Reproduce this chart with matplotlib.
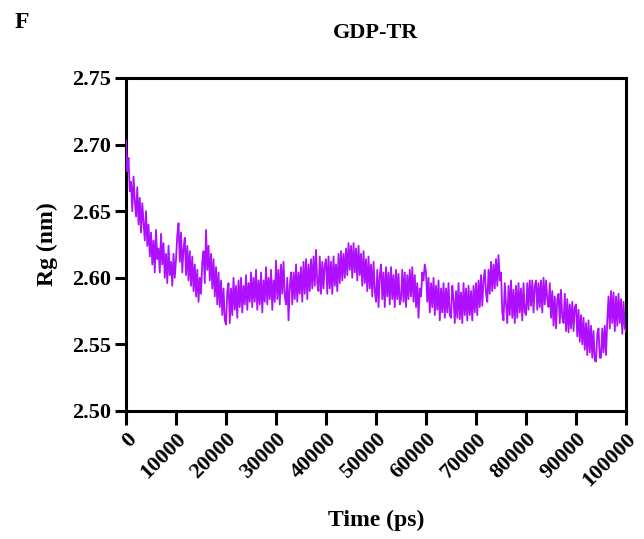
import numpy as np
import matplotlib
matplotlib.use("Agg")
from matplotlib import pyplot as plt

# Rg trajectory of GDP-TR, sampled every 250 ps (one row = 5000 ps)
time_ps = np.arange(0, 100001, 250)
rg_nm = [
    2.703, 2.680, 2.690, 2.665, 2.672, 2.650, 2.676, 2.658, 2.646, 2.668, 2.640, 2.660, 2.634, 2.656, 2.642, 2.628, 2.650, 2.624, 2.640, 2.616,
    2.634, 2.610, 2.628, 2.604, 2.636, 2.614, 2.622, 2.604, 2.633, 2.610, 2.626, 2.600, 2.618, 2.596, 2.624, 2.602, 2.612, 2.594, 2.618, 2.600,
    2.614, 2.632, 2.641, 2.612, 2.634, 2.604, 2.622, 2.630, 2.602, 2.624, 2.598, 2.620, 2.594, 2.616, 2.590, 2.610, 2.586, 2.606, 2.582, 2.600,
    2.588, 2.612, 2.620, 2.596, 2.636, 2.606, 2.624, 2.598, 2.618, 2.592, 2.614, 2.586, 2.608, 2.580, 2.604, 2.578, 2.598, 2.572, 2.592, 2.568,
    2.565, 2.590, 2.596, 2.566, 2.592, 2.572, 2.600, 2.576, 2.594, 2.570, 2.598, 2.578, 2.600, 2.574, 2.594, 2.580, 2.602, 2.576, 2.596, 2.582,
    2.604, 2.578, 2.600, 2.582, 2.606, 2.576, 2.598, 2.580, 2.604, 2.574, 2.598, 2.582, 2.608, 2.580, 2.600, 2.584, 2.606, 2.576, 2.598, 2.582,
    2.613, 2.584, 2.606, 2.580, 2.610, 2.588, 2.612, 2.586, 2.580, 2.600, 2.568, 2.594, 2.604, 2.580, 2.604, 2.584, 2.610, 2.582, 2.604, 2.588,
    2.608, 2.582, 2.612, 2.588, 2.614, 2.584, 2.610, 2.590, 2.614, 2.592, 2.616, 2.594, 2.621, 2.596, 2.590, 2.616, 2.588, 2.612, 2.592, 2.610,
    2.614, 2.588, 2.616, 2.592, 2.612, 2.588, 2.616, 2.594, 2.610, 2.590, 2.618, 2.596, 2.620, 2.598, 2.618, 2.600, 2.622, 2.602, 2.626, 2.606,
    2.624, 2.600, 2.626, 2.604, 2.622, 2.598, 2.624, 2.602, 2.618, 2.594, 2.620, 2.596, 2.614, 2.590, 2.616, 2.592, 2.610, 2.586, 2.612, 2.590,
    2.582, 2.606, 2.578, 2.602, 2.610, 2.584, 2.604, 2.578, 2.608, 2.586, 2.604, 2.580, 2.608, 2.584, 2.602, 2.578, 2.606, 2.584, 2.603, 2.580,
    2.584, 2.606, 2.582, 2.604, 2.578, 2.602, 2.584, 2.606, 2.586, 2.608, 2.582, 2.602, 2.578, 2.596, 2.570, 2.592, 2.586, 2.604, 2.598, 2.610,
    2.604, 2.582, 2.600, 2.574, 2.596, 2.578, 2.600, 2.572, 2.594, 2.576, 2.598, 2.568, 2.592, 2.574, 2.596, 2.570, 2.592, 2.574, 2.596, 2.572,
    2.570, 2.594, 2.584, 2.566, 2.590, 2.570, 2.596, 2.569, 2.589, 2.566, 2.596, 2.572, 2.592, 2.568, 2.594, 2.572, 2.590, 2.568, 2.594, 2.574,
    2.596, 2.572, 2.598, 2.578, 2.602, 2.579, 2.598, 2.606, 2.588, 2.582, 2.606, 2.588, 2.612, 2.590, 2.610, 2.592, 2.614, 2.594, 2.617, 2.598,
    2.604, 2.574, 2.568, 2.596, 2.580, 2.566, 2.594, 2.572, 2.598, 2.570, 2.591, 2.566, 2.594, 2.570, 2.596, 2.574, 2.592, 2.568, 2.596, 2.574,
    2.572, 2.596, 2.576, 2.598, 2.579, 2.598, 2.574, 2.594, 2.598, 2.576, 2.596, 2.578, 2.598, 2.574, 2.600, 2.580, 2.598, 2.584, 2.578, 2.596,
    2.570, 2.590, 2.564, 2.586, 2.562, 2.584, 2.588, 2.566, 2.591, 2.570, 2.566, 2.588, 2.560, 2.584, 2.559, 2.580, 2.562, 2.582, 2.560, 2.578,
    2.580, 2.556, 2.576, 2.552, 2.572, 2.550, 2.570, 2.546, 2.566, 2.542, 2.568, 2.544, 2.564, 2.540, 2.560, 2.538, 2.537, 2.558, 2.562, 2.540,
    2.540, 2.562, 2.544, 2.564, 2.542, 2.568, 2.586, 2.562, 2.590, 2.566, 2.589, 2.560, 2.586, 2.564, 2.588, 2.566, 2.584, 2.558, 2.582, 2.562,
    2.560,
]
x_ticks = np.arange(0, 100001, 10000)
y_ticks = [2.50, 2.55, 2.60, 2.65, 2.70, 2.75]

plt.rcParams["font.family"] = "Liberation Serif"
plt.rcParams["font.weight"] = "bold"

fig = plt.figure(figsize=(6.44, 5.39), dpi=100)
ax = fig.add_axes([0.1957, 0.2375, 0.7764, 0.6178])

ax.plot(time_ps, rg_nm, color="#AE0FFF", lw=1.3, zorder=3)

ax.set_xlim(0, 100000)
ax.set_ylim(2.50, 2.75)
ax.set_xticks(x_ticks)
ax.set_xticklabels([str(t) for t in x_ticks], rotation=45, ha="right",
                   rotation_mode="anchor", fontsize=16, fontweight="bold")
ax.set_yticks(y_ticks)
ax.set_yticklabels(["%.2f" % v for v in y_ticks], fontsize=16, fontweight="bold")

for s in ax.spines.values():
    s.set_linewidth(2.2)
ax.tick_params(axis="both", direction="out", width=2.2, length=8, pad=3)
ax.tick_params(axis="x", length=10)

ax.set_xlabel("Time (ps)", fontsize=17, fontweight="bold", labelpad=14)
ax.set_ylabel("Rg (nm)", fontsize=17, fontweight="bold", labelpad=10)
ax.set_title("GDP-TR", fontsize=16, fontweight="bold", pad=29)
fig.text(0.022, 0.978, "F", fontsize=17, fontweight="bold", va="top")

fig.savefig("out.png", dpi=100)
